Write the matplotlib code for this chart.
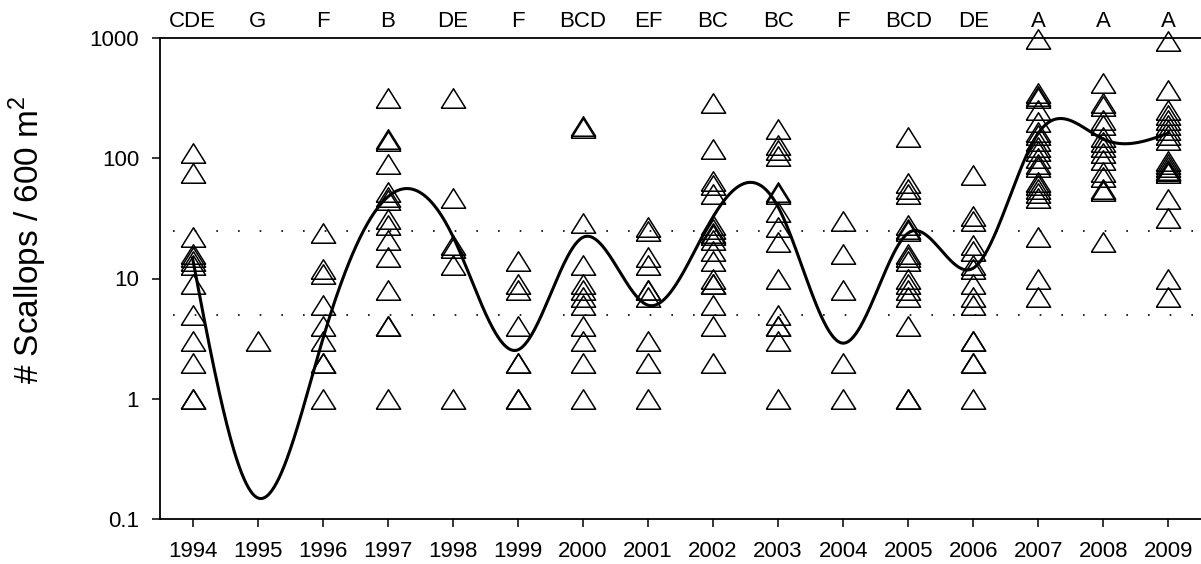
import numpy as np
import matplotlib
matplotlib.use('Agg')
import matplotlib.pyplot as plt

plt.rcParams['font.family'] = ['Liberation Sans', 'DejaVu Sans']
plt.rcParams['mathtext.fontset'] = 'custom'
plt.rcParams['mathtext.rm'] = 'Liberation Sans'

years = list(range(1994, 2010))
letters = ['CDE', 'G', 'F', 'B', 'DE', 'F', 'BCD', 'EF', 'BC', 'BC', 'F', 'BCD', 'DE', 'A', 'A', 'A']

# scallop counts per transect
y1994 = [110, 75, 22, 16, 15, 14, 13, 9, 5, 3, 2, 1, 1]
y1995 = [3]
y1996 = [24, 12, 11, 6, 4, 3, 2, 2, 1]
y1997 = [320, 145, 140, 90, 52, 48, 45, 31, 28, 21, 15, 8, 4, 4, 1]
y1998 = [320, 47, 19, 18, 13, 1]
y1999 = [14, 9, 8, 4, 2, 2, 1, 1]
y2000 = [185, 180, 29, 13, 9, 8, 7, 6, 4, 3, 2, 1]
y2001 = [27, 25, 15, 13, 8, 8, 7, 3, 2, 1]
y2002 = [290, 120, 65, 60, 50, 28, 26, 24, 23, 21, 17, 14, 10, 9, 9, 6, 4, 2]
y2003 = [175, 130, 118, 105, 52, 50, 36, 27, 20, 10, 5, 4, 4, 3, 1]
y2004 = [30, 16, 8, 2, 1]
y2005 = [150, 62, 55, 50, 28, 26, 25, 16, 15, 14, 10, 9, 8, 7, 4, 1, 1]
y2006 = [72, 33, 30, 19, 17, 13, 12, 9, 7, 6, 3, 3, 2, 2, 1]
y2007 = [980, 350, 330, 320, 250, 200, 165, 155, 140, 125, 115, 100, 90, 85,
         63, 60, 56, 51, 47, 22, 10, 7]
y2008 = [420, 290, 270, 210, 190, 150, 137, 125, 110, 97, 77, 70, 56, 53, 20]
y2009 = [950, 370, 250, 230, 208, 189, 172, 156, 142, 95, 90, 85, 80, 78, 75,
         46, 32, 10, 7]
counts = [y1994, y1995, y1996, y1997, y1998, y1999, y2000, y2001, y2002,
          y2003, y2004, y2005, y2006, y2007, y2008, y2009]

# fitted trend value at each year (spline knots)
trend = [14.8, 0.15, 3.1, 47.7, 22.5, 2.55, 22.0, 6.0, 32.5, 39.4, 2.9, 23.9,
         12.2, 162, 144, 162]

ref_lines = [5, 25]


def natural_spline(x, y, xs):
    n = len(x)
    h = np.diff(x)
    A = np.zeros((n, n))
    r = np.zeros(n)
    A[0, 0] = A[-1, -1] = 1
    for i in range(1, n - 1):
        A[i, i - 1] = h[i - 1]
        A[i, i] = 2 * (h[i - 1] + h[i])
        A[i, i + 1] = h[i]
        r[i] = 3 * ((y[i + 1] - y[i]) / h[i] - (y[i] - y[i - 1]) / h[i - 1])
    c = np.linalg.solve(A, r)
    b = (y[1:] - y[:-1]) / h - h * (2 * c[:-1] + c[1:]) / 3
    d = (c[1:] - c[:-1]) / (3 * h)
    idx = np.clip(np.searchsorted(x, xs) - 1, 0, n - 2)
    dx = xs - x[idx]
    return y[idx] + b[idx] * dx + c[idx] * dx ** 2 + d[idx] * dx ** 3


fig = plt.figure(figsize=(12.01, 5.64), dpi=100)
ax = fig.add_axes([160 / 1201, 45 / 564, 1 - 160 / 1201, 481 / 564])

tri = [(-1, -0.8), (1, -0.8), (0, 0.8), (-1, -0.8)]
for yr, vals in zip(years, counts):
    ax.plot([yr] * len(vals), vals, linestyle='none', marker=tri, markersize=17.5,
            markerfacecolor='none', markeredgecolor='black', markeredgewidth=1.1,
            clip_on=False, zorder=3)

xs = np.linspace(years[0], years[-1], 800)
ys = natural_spline(np.array(years, float), np.log10(trend), xs)
ax.plot(xs, 10 ** ys, color='black', lw=2.2, zorder=4)

for v in ref_lines:
    ax.plot([1993.7, 2009.5], [v, v], color='black', lw=1.2,
            linestyle=(0, (1, 12)), zorder=1)

ax.set_yscale('log')
ax.set_ylim(0.1, 1000)
ax.set_xlim(1993.5, 2009.5)
ax.set_yticks([0.1, 1, 10, 100, 1000])
ax.set_yticklabels(['0.1', '1', '10', '100', '1000'])
ax.yaxis.set_minor_locator(matplotlib.ticker.NullLocator())
ax.set_xticks(years)
ax.set_xticklabels([str(y) for y in years])
ax.tick_params(axis='both', direction='out', length=6, width=1.1, labelsize=16)
ax.tick_params(axis='y', pad=9)
ax.tick_params(axis='x', pad=10)
for s in ['left', 'bottom', 'top']:
    ax.spines[s].set_linewidth(1.3)
ax.spines['right'].set_visible(False)

for yr, lab in zip(years, letters):
    ax.annotate(lab, xy=(yr, 1), xycoords=('data', 'axes fraction'),
                xytext=(0, 8), textcoords='offset points',
                ha='center', va='baseline', fontsize=16)

fig.text(28 / 1201, 1 - 240 / 564, '# Scallops / 600 m$^2$', rotation=90,
         ha='center', va='center', fontsize=24)

fig.savefig('out.png', dpi=100)
